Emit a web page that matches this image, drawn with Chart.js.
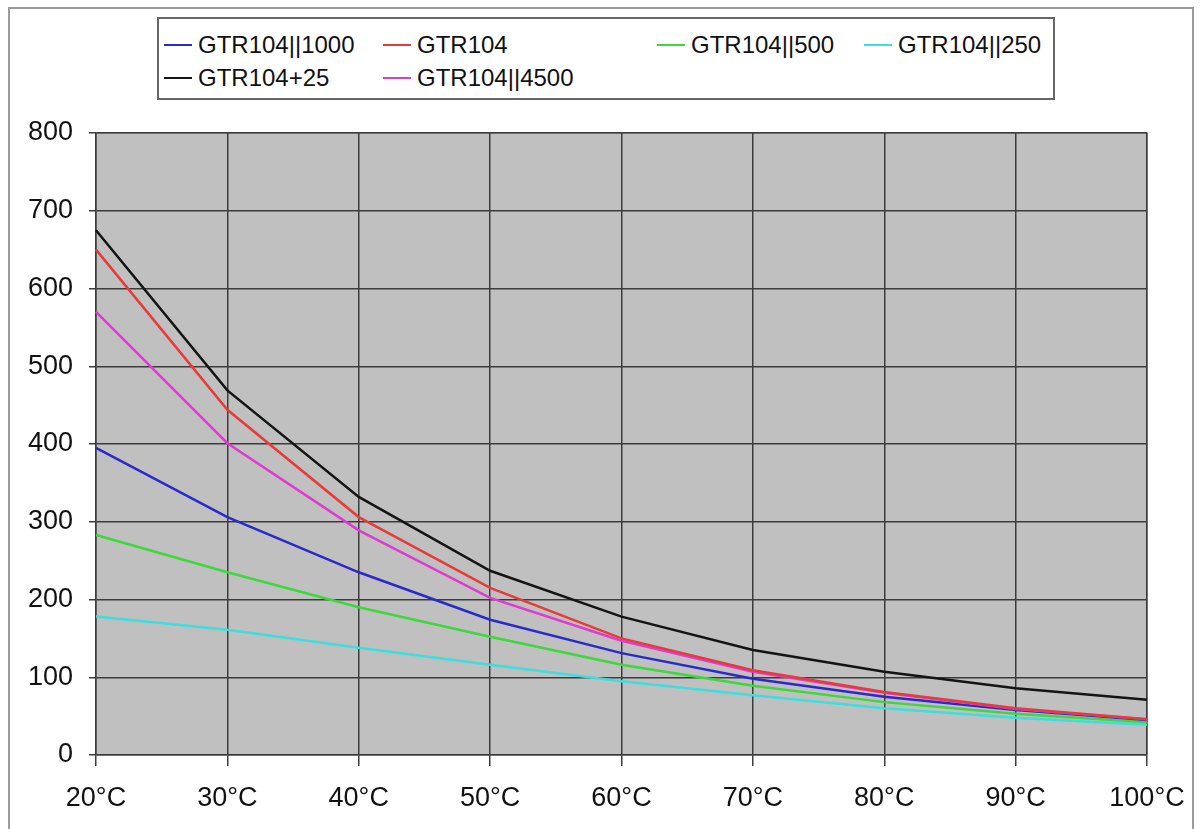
<!DOCTYPE html>
<html>
<head>
<meta charset="utf-8">
<script src="https://cdn.jsdelivr.net/npm/chart.js@4"></script>
<style>
  html, body { margin: 0; padding: 0; background: #fff; }
  #wrap { position: relative; width: 1202px; height: 829px; overflow: hidden; }
  #frame { position: absolute; left: 8px; top: 7px; width: 1186px; height: 840px;
           border: 2px solid #9a9a9a; box-sizing: border-box; }
  #legend { position: absolute; left: 157px; top: 17px; width: 898px; height: 83px;
            border: 2px solid #666; box-sizing: border-box; background: #fff;
            font-family: "Liberation Sans", Arial, sans-serif; font-size: 24px; color: #111; }
  .item { position: absolute; display: flex; align-items: center; white-space: nowrap; }
  .item span.ln { display: inline-block; width: 28px; height: 2px; margin-right: 6px; }
  canvas { position: absolute; left: 0; top: 0; }
</style>
</head>
<body>
<div id="wrap">
  <div id="frame"></div>
  <canvas id="myChart" width="1202" height="829"></canvas>
  <div id="legend"></div>
</div>
<script>
const labels = ["20°C", "30°C", "40°C", "50°C", "60°C", "70°C", "80°C", "90°C", "100°C"]
const names = ["GTR104||1000", "GTR104", "GTR104||500", "GTR104||250", "GTR104+25", "GTR104||4500"]
const colorHex = ["#2a2acc", "#e83a3a", "#3cd83c", "#3cdede", "#141414", "#e03ad0"]

const gtr1000 = [395, 306, 235, 174, 131, 98, 75, 58, 45]
const gtr104 = [650, 444, 306, 215, 150, 109, 81, 60, 46]
const gtr500 = [283, 235, 190, 152, 116, 89, 68, 53, 42]
const gtr250 = [178, 161, 138, 116, 95, 77, 60, 48, 39]
const gtr25 = [675, 469, 332, 237, 178, 135, 107, 86, 71]
const gtr4500 = [570, 401, 289, 202, 147, 107, 80, 59, 46]
const yTicks = [0, 100, 200, 300, 400, 500, 600, 700, 800]

const series = [gtr1000, gtr104, gtr500, gtr250, gtr25, gtr4500]
// drawing order: cyan at the bottom, black on top
const order = [3, 2, 0, 5, 1, 4]

const plotBg = {
    id: 'plotBg',
    beforeDraw(chart) {
        const a = chart.chartArea, c = chart.ctx
        c.save()
        c.fillStyle = '#c0c0c0'
        c.fillRect(a.left, a.top, a.right - a.left, a.bottom - a.top)
        c.strokeStyle = '#8c8c8c'
        c.lineWidth = 1.5
        c.beginPath()
        c.moveTo(a.left, a.top); c.lineTo(a.right, a.top); c.lineTo(a.right, a.bottom)
        c.stroke()
        c.restore()
    }
}

const ctx = document.getElementById('myChart').getContext('2d')
const myChart = new Chart(ctx, {
    type: 'line',
    data: {
        labels: labels,
        datasets: series.map((d, i) => ({
            label: names[i],
            data: d,
            borderColor: colorHex[i],
            backgroundColor: colorHex[i],
            borderWidth: 2.5,
            pointRadius: 0,
            tension: 0,
            order: order.indexOf(i) * -1
        }))
    },
    options: {
        responsive: false,
        animation: false,
        devicePixelRatio: 1,
        layout: { padding: { left: 0, right: 55, top: 133, bottom: 0 } },
        plugins: { legend: { display: false }, tooltip: { enabled: false } },
        scales: {
            x: {
                offset: false,
                afterFit: (s) => { s.height = 74 },
                grid: { color: '#3c3c3c', lineWidth: 1.5, tickLength: 11, drawTicks: true },
                border: { color: '#3c3c3c', width: 1.5 },
                ticks: { color: '#111', font: { family: 'Liberation Sans', size: 27 }, padding: 16, maxRotation: 0, autoSkip: false }
            },
            y: {
                min: 0, max: 800,
                afterFit: (s) => { s.width = 96 },
                afterBuildTicks: (s) => { s.ticks = yTicks.map(v => ({ value: v })) },
                grid: { color: '#3c3c3c', lineWidth: 1.5, tickLength: 7 },
                border: { color: '#3c3c3c', width: 1.5 },
                ticks: { color: '#111', font: { family: 'Liberation Sans', size: 27 }, padding: 16 }
            }
        }
    },
    plugins: [plotBg]
})

// legend laid out in fixed columns like the original
const legendPos = [[5, 12], [224, 12], [498, 12], [705, 12], [5, 45], [224, 45]]
const leg = document.getElementById('legend')
names.forEach((n, i) => {
    const el = document.createElement('div')
    el.className = 'item'
    el.style.left = legendPos[i][0] + 'px'
    el.style.top = legendPos[i][1] + 'px'
    el.innerHTML = '<span class="ln" style="background:' + colorHex[i] + '"></span>' + n
    leg.appendChild(el)
})
</script>
</body>
</html>
